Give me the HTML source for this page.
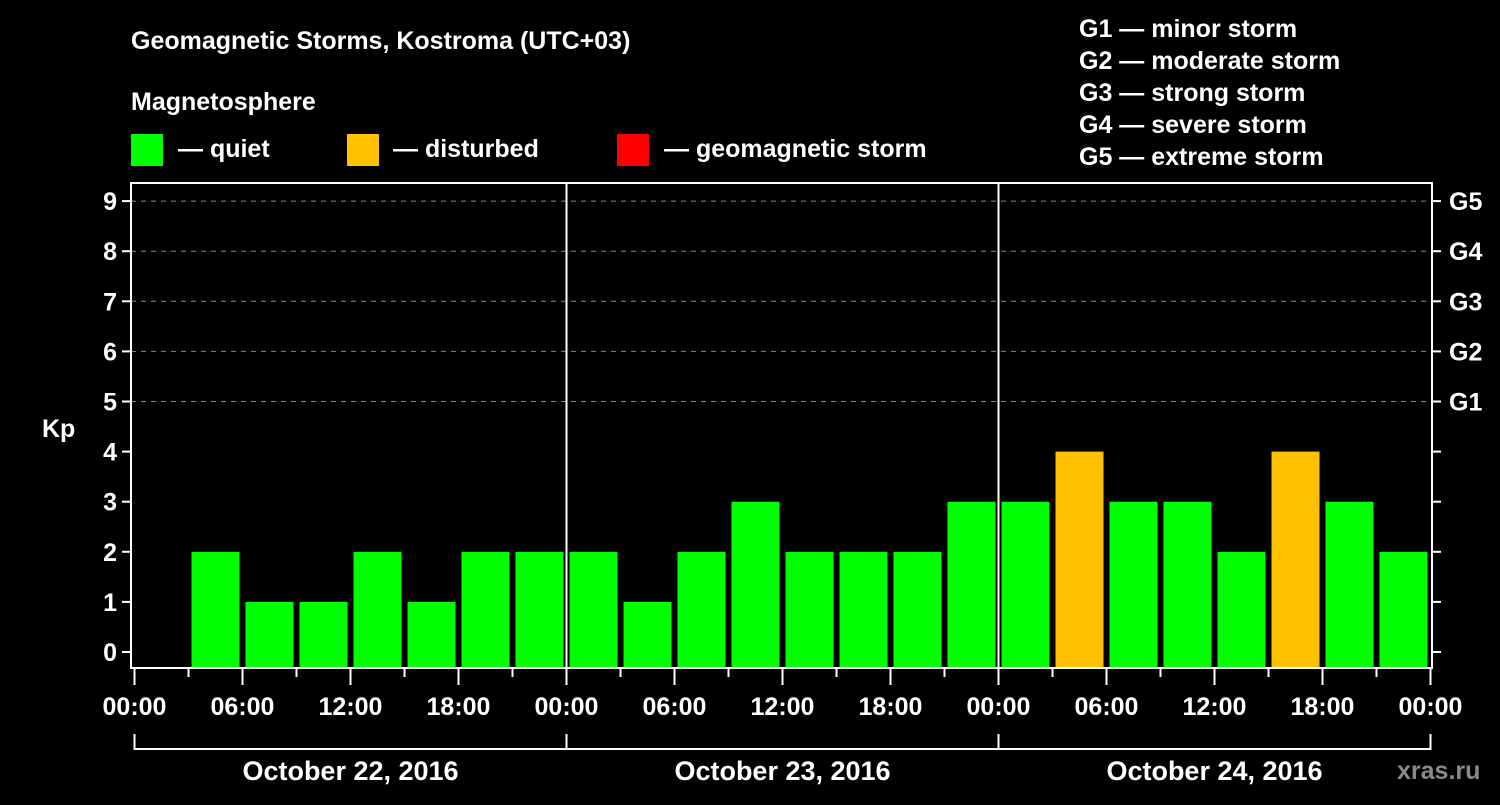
<!DOCTYPE html>
<html><head><meta charset="utf-8"><style>
body{margin:0;background:#000;width:1500px;height:800px;overflow:hidden}
svg text{font-family:"Liberation Sans",Arial,sans-serif;font-weight:bold;fill:#fff}
</style></head><body>
<svg id="chart" width="1500" height="800" xmlns="http://www.w3.org/2000/svg">
<rect width="1500" height="800" fill="#000"/>
<text x="131" y="49" font-size="25">Geomagnetic Storms, Kostroma (UTC+03)</text>
<text x="131" y="110" font-size="25">Magnetosphere</text>
<g>
<rect x="131" y="134" width="32" height="32" fill="#00ff00"/>
<text x="178" y="157" font-size="25">— quiet</text>
<rect x="347" y="134" width="32" height="32" fill="#ffc000"/>
<text x="393" y="157" font-size="25">— disturbed</text>
<rect x="617" y="134" width="32" height="32" fill="#ff0000"/>
<text x="664" y="157" font-size="25">— geomagnetic storm</text>
</g>
<g font-size="25">
<text x="1079" y="37">G1 — minor storm</text>
<text x="1079" y="69">G2 — moderate storm</text>
<text x="1079" y="101">G3 — strong storm</text>
<text x="1079" y="133">G4 — severe storm</text>
<text x="1079" y="165">G5 — extreme storm</text>
</g>
<text x="42" y="437" font-size="25">Kp</text>
<text x="1397" y="779" font-size="25" fill="#888" style="fill:#8a8a8a">xras.ru</text>
<g id="plot"></g>
</svg>
<script>
const kpValues=[null,2,1,1,2,1,2,2, 2,1,2,3,2,2,2,3, 3,4,3,3,2,4,3,2];
const yTicks=[0,1,2,3,4,5,6,7,8,9];
const gLabels=["G1","G2","G3","G4","G5"];
const hourLabels=["00:00","06:00","12:00","18:00"];
const dayLabels=["October 22, 2016","October 23, 2016","October 24, 2016"];
const NS="http://www.w3.org/2000/svg";
const g=document.getElementById('plot');
const X0=134.5,PXH=18,Y0=652,PXK=50.1,TOP=183,BOT=668,LEFT=131,RIGHT=1432;
const xs=h=>X0+h*PXH, ys=k=>Y0-k*PXK;
function mk(t,a){const e=document.createElementNS(NS,t);for(const k in a)e.setAttribute(k,a[k]);g.appendChild(e);return e;}
// gridlines
yTicks.forEach(k=>{if(k>=5){const l=mk('line',{x1:LEFT,x2:RIGHT,y1:ys(k),y2:ys(k),stroke:'#888','stroke-dasharray':'5,5','stroke-width':1});

}});
// bars
kpValues.forEach((v,i)=>{if(v===null)return;
const c=v>=5?'#ff0000':(v>=4?'#ffc000':'#00ff00');
const r=mk('rect',{x:xs(i*3)+3,y:ys(v),width:3*PXH-6,height:BOT-ys(v),fill:c});

});
// day separators
[1,2].forEach(d=>{const l=mk('line',{x1:xs(d*24),x2:xs(d*24),y1:TOP,y2:BOT,stroke:'#fff','stroke-width':2});

});
// frame
const f=mk('rect',{x:LEFT,y:TOP,width:RIGHT-LEFT,height:BOT-TOP,fill:'none',stroke:'#fff','stroke-width':2});


// y ticks
yTicks.forEach(k=>{mk('line',{x1:LEFT-9,x2:LEFT,y1:ys(k),y2:ys(k),stroke:'#fff','stroke-width':2});
mk('line',{x1:RIGHT,x2:RIGHT+9,y1:ys(k),y2:ys(k),stroke:'#fff','stroke-width':2});
const t=mk('text',{x:LEFT-14,y:ys(k)+9,'font-size':25,'text-anchor':'end'});t.textContent=k;

});
gLabels.forEach((s,i)=>{const t=mk('text',{x:1449,y:ys(5+i)+9,'font-size':25});t.textContent=s;

});
// x ticks
for(let h=0;h<=72;h+=3){const major=h%6===0;
mk('line',{x1:xs(h),x2:xs(h),y1:BOT,y2:BOT+(major?17:9),stroke:'#fff','stroke-width':2});
if(major){const t=mk('text',{x:xs(h),y:715,'font-size':25,'text-anchor':'middle'});t.textContent=hourLabels[(h/6)%4];

}}
// day brackets
dayLabels.forEach((s,d)=>{const a=xs(d*24),b=xs(d*24+24);
mk('path',{d:`M${a},734V749H${b}`+(d==2?'V734':''),stroke:'#fff','stroke-width':2,fill:'none'});
if(d<2)mk('line',{x1:b,x2:b,y1:734,y2:749,stroke:'#fff','stroke-width':2});
const t=mk('text',{x:(a+b)/2,y:780,'font-size':27,'text-anchor':'middle'});t.textContent=s;

});
</script>
</body></html>
